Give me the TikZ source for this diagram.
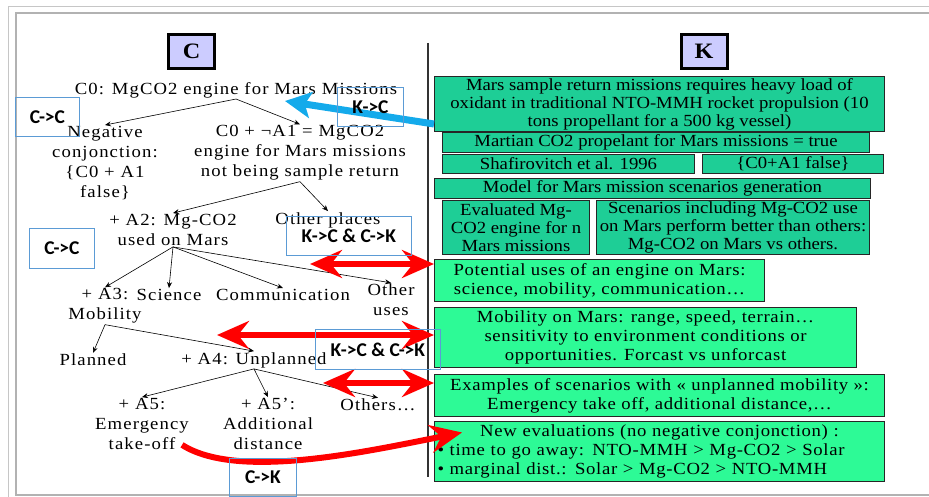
\documentclass[tikz,border=0pt]{standalone}
\usepackage{fontspec}
\setmainfont{Liberation Serif}[FakeStretch=1.1]
\newfontfamily\spacedrm{Liberation Serif}[FakeStretch=1.1,LetterSpace=6.5]
\newfontfamily\boxrm{Liberation Serif}[FakeStretch=1.1,LetterSpace=4]
\newfontfamily\tagfont{Carlito}
\usetikzlibrary{arrows.meta, positioning}
\definecolor{tealbox}{RGB}{30,206,150}
\definecolor{mintbox}{RGB}{45,250,150}
\definecolor{titlefill}{RGB}{204,204,255}
\definecolor{tagline}{RGB}{91,155,213}
\definecolor{kcblue}{RGB}{20,170,235}

\begin{document}
\begin{tikzpicture}[
  x=1pt, y=-1pt, % picture laid out in pixel units, y down
  title/.style={draw=black, line width=3pt, fill=titlefill, minimum width=46pt, minimum height=34pt, font=\bfseries\fontsize{22}{24}\selectfont},
  tree/.style={align=center, inner sep=1pt, font=\spacedrm\fontsize{17}{20}\selectfont},
  branch/.style={-{Stealth[length=6pt,width=5pt]}, line width=0.6pt},
  kbox/.style={draw=black!85, line width=1pt, fill=tealbox, align=center, inner sep=1pt, anchor=north west, font=\fontsize{17}{18}\selectfont},
  mbox/.style={kbox, fill=mintbox, font=\boxrm\fontsize{17}{19}\selectfont},
  tag/.style={draw=tagline, line width=0.8pt, anchor=north west, font=\tagfont\bfseries\fontsize{19.5}{20}\selectfont},
  kclink/.style={{Stealth[length=32pt,width=28pt,inset=11pt]}-{Stealth[length=32pt,width=28pt,inset=11pt]}, line width=6pt, red},
  cklink/.style={-{Stealth[length=32pt,width=28pt,inset=11pt]}, line width=6pt, red},
  kcarrow/.style={-{Stealth[length=26pt,width=26pt,inset=6pt]}, line width=7pt, kcblue}
]
\useasboundingbox (0,0) rectangle (929,497);

% slide frame and divider
\draw[gray!45, line width=1pt] (8,497) -- (8,7) -- (929,7);
\draw[gray!60, line width=1.2pt] (929,495) -- (16,495) -- (16,13) -- (929,13);
\draw[black!80, line width=1.2pt] (428,43) -- (428,477);

% column titles
\node[title] (ctitle) at (191.5,51.5) {C};
\node[title] (ktitle) at (704,51.5) {K};

% C side: concept tree
\node[tree] (c0) at (236,90) {C0: MgCO2 engine for Mars Missions};
\node[tree] (neg) at (105,163) {Negative\\conjonction:\\\{C0 + A1\\false\}};
\node[tree] (na1) at (300,153) {C0 + ¬A1 = MgCO2\\engine for Mars missions\\not being sample return};
\node[tree] (a2) at (173,230) {+ A2: Mg-CO2\\used on Mars};
\node[tree] (other) at (328,220) {Other places};
\node[tree] (a3) at (105,306) {+ A3:\\Mobility};
\node[tree] (sci) at (169,295) {Science};
\node[tree] (comm) at (283,295) {Communication};
\node[tree] (otheruses) at (391,300) {Other\\uses};
\node[tree] (planned) at (93,360) {Planned};
\node[tree] (a4) at (254,360) {+ A4: Unplanned};
\node[tree] (a5) at (142,424) {+ A5:\\Emergency\\take-off};
\node[tree] (a5p) at (268,424) {+ A5’:\\Additional\\distance};
\node[tree] (others) at (378,405) {Others…};

\draw[branch] (c0.south) -- (neg.north);
\draw[branch] (c0.south) -- (na1.north);
\draw[branch] (na1.south) -- (a2.north);
\draw[branch] (na1.south) -- (other.north);
\draw[branch] (a2.south) -- (a3.north);
\draw[branch] (a2.south) -- (sci.north);
\draw[branch] (a2.south) -- (comm.north);
\draw[branch] (a2.south) -- (otheruses.north);
\draw[branch] (a3.south) -- (planned.north);
\draw[branch] (a3.south) -- (a4.north);
\draw[branch] (a4.south) -- (a5.north);
\draw[branch] (a4.south) -- (a5p.north);
\draw[branch] (a4.south) -- (others.north);

% K side: knowledge boxes
\node[kbox, minimum width=450pt, minimum height=55pt] (b1) at (434,76) {Mars sample return missions requires heavy load of\\oxidant in traditional NTO-MMH rocket propulsion (10\\tons propellant for a 500 kg vessel)};
\node[kbox, minimum width=427pt, minimum height=20pt] (b2) at (442,132) {Martian CO2 propelant for Mars missions = true};
\node[kbox, minimum width=252pt, minimum height=19pt] (b3) at (442,154) {Shafirovitch et al. 1996};
\node[kbox, minimum width=181pt, minimum height=19pt] (b4) at (702,154) {\{C0+A1 false\}};
\node[kbox, minimum width=436pt, minimum height=20pt] (b5) at (434,178) {Model for Mars mission scenarios generation};
\node[kbox, minimum width=147pt, minimum height=54pt] (b6) at (442,200) {Evaluated Mg-\\CO2 engine for n\\Mars missions};
\node[kbox, minimum width=273pt, minimum height=54pt] (b7) at (596,200) {Scenarios including Mg-CO2 use\\on Mars perform better than others:\\Mg-CO2 on Mars vs others.};
\node[mbox, minimum width=330pt, minimum height=42pt] (b8) at (434,259) {Potential uses of an engine on Mars:\\science, mobility, communication…};
\node[mbox, minimum width=422pt, minimum height=60pt] (b9) at (434,307) {Mobility on Mars: range, speed, terrain…\\sensitivity to environment conditions or\\opportunities. Forcast vs unforcast};
\node[mbox, minimum width=450pt, minimum height=42pt] (b10) at (434,374) {Examples of scenarios with « unplanned mobility »:\\Emergency take off, additional distance,…};
\node[mbox, minimum width=450pt, minimum height=60pt, text width=444pt, align=left] (b11) at (434,421) {\makebox[\linewidth]{New evaluations (no negative conjonction) :}\\• time to go away: NTO-MMH > Mg-CO2 > Solar\\• marginal dist.: Solar > Mg-CO2 > NTO-MMH};

% links between C and K
\draw[kcarrow] ([yshift=-20pt]b1.west) -- ([xshift=49pt,yshift=-2pt]c0.south);
\coordinate (r1) at (310,264);
\coordinate (r2) at (217,335);
\coordinate (r3) at (323,383);
\draw[kclink] (r1) -- (r1 -| b8.west);
\draw[kclink] (r2) -- (r2 -| b9.west);
\draw[kclink] (r3) -- (r3 -| b10.west);
\draw[cklink] ([xshift=-8pt,yshift=6pt]a5.south east) .. controls +(55,35) and +(-100,20) .. ([xshift=28pt,yshift=19pt]b11.west);

% operation tags
\node[tag, minimum width=64pt, minimum height=39pt] (cc1) at (15,97) {C->C};
\node[tag, minimum width=65pt, minimum height=40pt] (cc2) at (29,228) {C->C};
\node[tag, minimum width=66pt, minimum height=39pt] (kc1) at (337,87) {K->C};
\node[tag, minimum width=125pt, minimum height=39pt] (kcck1) at (286,216) {K->C \& C->K};
\node[tag, minimum width=125pt, minimum height=40pt] (kcck2) at (315,329) {K->C \& C->K};
\node[tag, minimum width=67pt, minimum height=38pt] (ck1) at (229,458) {C->K};

\end{tikzpicture}
\end{document}
